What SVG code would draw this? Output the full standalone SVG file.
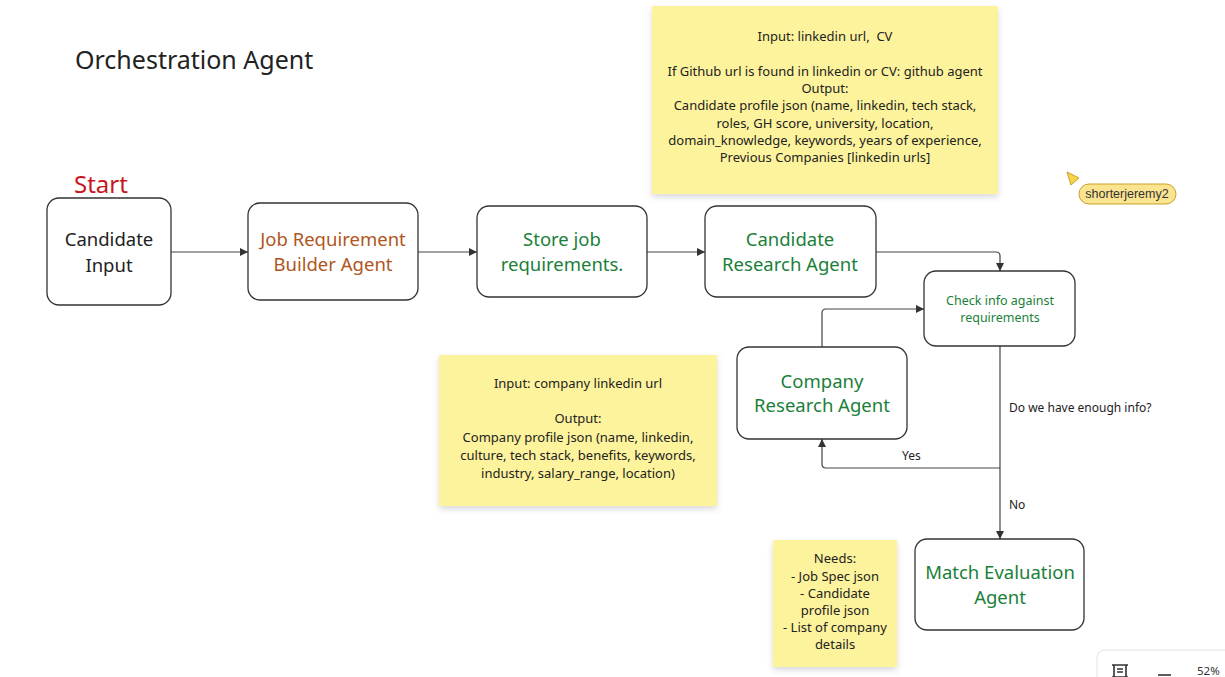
<svg xmlns="http://www.w3.org/2000/svg" width="1225" height="677" viewBox="0 0 1225 677">
<style>
text{font-family:"Noto Sans","Open Sans",sans-serif}
.box{fill:#fff;stroke:#333;stroke-width:1.3}
.big{font-size:18.5px;text-anchor:middle}
.g{fill:#1b7f3a}
.note{fill:#fdf39c}
.nt{font-size:13px;fill:#222;text-anchor:middle}
.lbl{font-size:12px;fill:#222}
.conn{fill:none;stroke:#444;stroke-width:1.2}
</style>
<defs>
<marker id="ah" markerWidth="10" markerHeight="10" refX="8" refY="5" orient="auto" markerUnits="userSpaceOnUse">
<path d="M0,1 L8,5 L0,9 Z" fill="#333"/>
</marker>
<filter id="sh" x="-10%" y="-10%" width="120%" height="130%">
<feDropShadow dx="0" dy="3" stdDeviation="3" flood-color="#000" flood-opacity="0.15"/>
</filter>
</defs>
<rect width="1225" height="677" fill="#fff"/>
<text x="75" y="69" font-size="25" fill="#222">Orchestration Agent</text>
<text x="74" y="193" font-size="24" fill="#c8161d">Start</text>

<g id="note-candidate">
<rect class="note" x="652" y="6" width="346" height="188" filter="url(#sh)"/>
<text class="nt" x="825" y="41" xml:space="preserve">Input: linkedin url,  CV</text>
<text class="nt" x="825" y="76">If Github url is found in linkedin or CV: github agent</text>
<text class="nt" x="825" y="93">Output:</text>
<text class="nt" x="825" y="110">Candidate profile json (name, linkedin, tech stack,</text>
<text class="nt" x="825" y="128">roles, GH score, university, location,</text>
<text class="nt" x="825" y="145">domain_knowledge, keywords, years of experience,</text>
<text class="nt" x="825" y="162">Previous Companies [linkedin urls]</text>
</g>

<g id="note-company">
<rect class="note" x="439" y="355" width="278" height="151" filter="url(#sh)"/>
<text class="nt" x="578" y="388">Input: company linkedin url</text>
<text class="nt" x="578" y="423">Output:</text>
<text class="nt" x="578" y="442">Company profile json (name, linkedin,</text>
<text class="nt" x="578" y="460">culture, tech stack, benefits, keywords,</text>
<text class="nt" x="578" y="478">industry, salary_range, location)</text>
</g>

<g id="note-needs">
<rect class="note" x="773" y="540" width="124" height="127" filter="url(#sh)"/>
<text class="nt" x="835" y="563">Needs:</text>
<text class="nt" x="835" y="581">- Job Spec json</text>
<text class="nt" x="835" y="598">- Candidate</text>
<text class="nt" x="835" y="615">profile json</text>
<text class="nt" x="835" y="632">- List of company</text>
<text class="nt" x="835" y="649">details</text>
</g>

<g id="connectors">
<line class="conn" x1="171" y1="252" x2="248" y2="252" marker-end="url(#ah)"/>
<line class="conn" x1="418" y1="252" x2="477" y2="252" marker-end="url(#ah)"/>
<line class="conn" x1="647" y1="252" x2="705" y2="252" marker-end="url(#ah)"/>
<path class="conn" d="M876,252 H996 Q1000,252 1000,256 V271" marker-end="url(#ah)"/>
<path class="conn" d="M822,347 V313 Q822,309 826,309 H924" marker-end="url(#ah)"/>
<line class="conn" x1="1000" y1="346" x2="1000" y2="539" marker-end="url(#ah)"/>
<path class="conn" d="M1000,468 H826 Q822,468 822,464 V439" marker-end="url(#ah)"/>
<text class="lbl" x="1009" y="412">Do we have enough info?</text>
<text class="lbl" x="902" y="460">Yes</text>
<text class="lbl" x="1009" y="509">No</text>
</g>

<g id="candidate-input">
<rect class="box" x="47" y="198" width="124" height="107" rx="12"/>
<text class="big" x="109" y="246" fill="#222">Candidate</text>
<text class="big" x="109" y="272" fill="#222">Input</text>
</g>
<g id="job-requirement">
<rect class="box" x="248" y="203" width="170" height="97" rx="12"/>
<text class="big" x="333" y="246" fill="#b0561c">Job Requirement</text>
<text class="big" x="333" y="271" fill="#b0561c">Builder Agent</text>
</g>
<g id="store-job">
<rect class="box" x="477" y="206" width="170" height="91" rx="12"/>
<text class="big g" x="562" y="246">Store job</text>
<text class="big g" x="562" y="271">requirements.</text>
</g>
<g id="candidate-research">
<rect class="box" x="705" y="206" width="171" height="91" rx="12"/>
<text class="big g" x="790" y="246">Candidate</text>
<text class="big g" x="790" y="271">Research Agent</text>
</g>
<g id="check-info">
<rect class="box" x="924" y="271" width="151" height="75" rx="12"/>
<text class="g" x="1000" y="305" font-size="12.5" text-anchor="middle">Check info against</text>
<text class="g" x="1000" y="322" font-size="12.5" text-anchor="middle">requirements</text>
</g>
<g id="company-research">
<rect class="box" x="737" y="347" width="170" height="92" rx="12"/>
<text class="big g" x="822" y="388">Company</text>
<text class="big g" x="822" y="412">Research Agent</text>
</g>
<g id="match-evaluation">
<rect class="box" x="915" y="539" width="169" height="91" rx="12"/>
<text class="big g" x="1000" y="579">Match Evaluation</text>
<text class="big g" x="1000" y="604">Agent</text>
</g>

<g id="cursor">
<path d="M1067,172 L1079,178 L1071,185 Z" fill="#f7d54a" stroke="#c9a227" stroke-width="1"/>
<rect x="1079" y="184" width="97" height="20" rx="10" fill="#fbe48f" stroke="#c9a227" stroke-width="1"/>
<text x="1127" y="198" font-size="12.5" fill="#333" text-anchor="middle" style="font-family:'Liberation Sans',Arial,sans-serif">shorterjeremy2</text>
</g>

<g id="zoom-control">
<rect x="1097" y="650" width="150" height="50" rx="8" fill="#fff" stroke="#e2e2e2" stroke-width="1"/>
<path d="M1112,665 H1128 M1112,677 H1128 M1114,665 V677 M1126,665 V677 M1117,669 H1123 M1117,672 H1123" stroke="#333" stroke-width="1.6" fill="none"/>
<line x1="1158" y1="675" x2="1171" y2="675" stroke="#333" stroke-width="1.6"/>
<text x="1197" y="675" font-size="11.5" fill="#333">52%</text>
</g>
</svg>
